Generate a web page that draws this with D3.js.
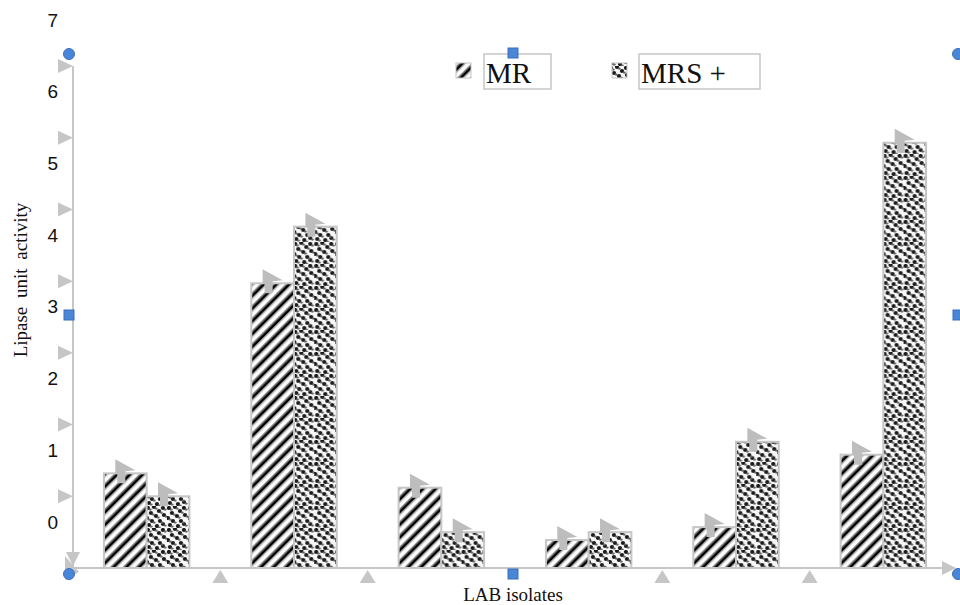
<!DOCTYPE html>
<html>
<head>
<meta charset="utf-8">
<script src="https://cdn.jsdelivr.net/npm/d3@7"></script>
<style>
  body { margin: 0; background: #fff; }
  svg { display: block; }
</style>
</head>
<body>
<svg></svg>
<script>
const isolates = ['1', '2', '3', '4', '5', '6']
const seriesNames = ['MR', 'MRS +']
const mrValues = [1.32, 3.97, 1.12, 0.39, 0.57, 1.58]
const mrsValues = [1.0, 4.76, 0.5, 0.5, 1.76, 5.93]
const yTicks = [0, 1, 2, 3, 4, 5, 6, 7]

const width = 960
const height = 605
const margin = { top: 66, right: 3, bottom: 37, left: 73 }
const gray = '#c6c6c6'

const svg = d3.select('svg')
  .attr('width', width)
  .attr('height', height)
  .attr('viewBox', [0, 0, width, height])

const defs = svg.append('defs')

// 斜线填充
const stripes = defs.append('pattern')
  .attr('id', 'stripes')
  .attr('patternUnits', 'userSpaceOnUse')
  .attr('width', 9)
  .attr('height', 9)
  .attr('patternTransform', 'rotate(45)')
stripes.append('rect').attr('width', 9).attr('height', 9).attr('fill', '#fff')
stripes.append('rect').attr('x', 0).attr('width', 1.4).attr('height', 9).attr('fill', '#999')
stripes.append('rect').attr('x', 1.4).attr('width', 2.6).attr('height', 9).attr('fill', '#000')
stripes.append('rect').attr('x', 4.0).attr('width', 1.4).attr('height', 9).attr('fill', '#999')

// 点状填充
const dotPos = [[2, 2], [8, 1], [13, 5], [5, 7], [10, 10], [1, 12], [6, 15], [14, 15], [3, 19], [11, 20], [17, 2], [18, 9], [17, 18]]
const dots = defs.append('pattern')
  .attr('id', 'dots')
  .attr('patternUnits', 'userSpaceOnUse')
  .attr('width', 21)
  .attr('height', 22)
dots.append('rect').attr('width', 21).attr('height', 22).attr('fill', '#f7f7f7')
dots.selectAll('circle')
  .data(dotPos)
  .join('circle')
  .attr('cx', d => d[0])
  .attr('cy', d => d[1])
  .attr('r', 2.1)
  .attr('fill', '#1a1a1a')
dots.selectAll('ellipse')
  .data(dotPos)
  .join('ellipse')
  .attr('cx', d => (d[0] + 2.2) % 21)
  .attr('cy', d => (d[1] + 1.6) % 22)
  .attr('rx', 1.6)
  .attr('ry', 1.1)
  .attr('fill', '#666')

const fills = ['url(#stripes)', 'url(#dots)']

const x = d3.scaleBand()
  .domain(isolates)
  .range([margin.left, 957])
  .paddingInner(0.42)
  .paddingOuter(0.21)

const xSub = d3.scaleBand()
  .domain(seriesNames)
  .range([0, x.bandwidth()])

const y = d3.scaleLinear()
  .domain([0, 7])
  .range([height - margin.bottom, margin.top])

// 坐标轴线
svg.append('line')
  .attr('x1', margin.left).attr('x2', margin.left)
  .attr('y1', y(7)).attr('y2', y(0))
  .attr('stroke', gray).attr('stroke-width', 2)
svg.append('line')
  .attr('x1', margin.left).attr('x2', 948)
  .attr('y1', y(0)).attr('y2', y(0))
  .attr('stroke', gray).attr('stroke-width', 2)

// 纵轴刻度三角
svg.append('g')
  .selectAll('path')
  .data(yTicks.slice(1))
  .join('path')
  .attr('d', v => `M${margin.left - 15},${y(v) - 7}L${margin.left},${y(v)}L${margin.left - 15},${y(v) + 7}Z`)
  .attr('fill', gray)

// 纵轴标签（向上偏移）
const yAxis = d3.axisLeft(y).tickValues(yTicks).tickFormat(d3.format('d')).tickSize(0).tickPadding(15)
svg.append('g')
  .attr('transform', `translate(${margin.left}, 0)`)
  .call(yAxis)
  .call(g => g.select('.domain').remove())
  .call(g => g.selectAll('text')
    .attr('dy', '-40')
    .attr('font-family', 'Liberation Sans, Arial, sans-serif')
    .attr('font-size', 19)
    .attr('fill', '#111'))

// 横轴刻度三角
const bounds = isolates.slice(1).map(c => x(c) - x.step() * x.paddingInner() / 2)
svg.append('g')
  .selectAll('path')
  .data(bounds.filter((b, i) => i !== 2))
  .join('path')
  .attr('d', b => `M${b - 8},${y(0) + 15}L${b},${y(0) + 2}L${b + 8},${y(0) + 15}Z`)
  .attr('fill', gray)

svg.append('path')
  .attr('d', `M${margin.left - 7},${y(0) - 16}L${margin.left + 7},${y(0) - 16}L${margin.left},${y(0) - 2}Z`)
  .attr('fill', gray)
svg.append('path')
  .attr('d', `M${margin.left - 8},${y(0) - 12}L${margin.left + 6},${y(0) + 4}L${margin.left - 8},${y(0) + 12}Z`)
  .attr('fill', gray)
svg.append('path')
  .attr('d', `M942,${y(0) - 7}L956,${y(0)}L942,${y(0) + 7}Z`)
  .attr('fill', gray)

// 柱子
const rows = isolates.map((c, i) => ({ c, values: [mrValues[i], mrsValues[i]] }))
const groups = svg.append('g')
  .selectAll('g')
  .data(rows)
  .join('g')
  .attr('transform', d => `translate(${x(d.c)}, 0)`)

groups.selectAll('rect')
  .data(d => d.values.map((v, k) => ({ v, k })))
  .join('rect')
  .attr('x', d => xSub(seriesNames[d.k]))
  .attr('y', d => y(d.v))
  .attr('width', xSub.bandwidth())
  .attr('height', d => y(0) - y(d.v))
  .attr('fill', d => fills[d.k])
  .attr('stroke', gray)
  .attr('stroke-width', 2)

// 误差线标记（灰色箭头）
groups.selectAll('path.cap')
  .data(d => d.values.map((v, k) => ({ v, k })))
  .join('path')
  .attr('class', 'cap')
  .attr('d', d => {
    const cx = xSub(seriesNames[d.k]) + xSub.bandwidth() / 2 - 4
    const t = y(d.v)
    return `M${cx - 6},${t - 14}L${cx + 14},${t - 3}L${cx + 4},${t - 2}L${cx + 4},${t + 10}L${cx - 4},${t + 10}L${cx - 4},${t}L${cx - 6},${t}Z`
  })
  .attr('fill', '#bdbdbd')

// 标题
svg.append('text')
  .text('Lipase  unit  activity')
  .attr('transform', 'translate(27, 280) rotate(-90)')
  .attr('text-anchor', 'middle')
  .attr('font-family', 'Liberation Serif, Times New Roman, serif')
  .attr('font-size', 19)
  .attr('word-spacing', 4)
  .attr('fill', '#111')

svg.append('text')
  .text('LAB isolates')
  .attr('x', 513)
  .attr('y', 601)
  .attr('text-anchor', 'middle')
  .attr('font-family', 'Liberation Serif, Times New Roman, serif')
  .attr('font-size', 19)
  .attr('fill', '#111')

// 图例
const legendX = [456, 612]
const legendBox = [[484, 67], [639, 121]]
const legend = svg.append('g')
  .selectAll('g')
  .data(seriesNames)
  .join('g')
legend.append('rect')
  .attr('x', (d, i) => legendX[i])
  .attr('y', 63)
  .attr('width', 15)
  .attr('height', 15)
  .attr('fill', (d, i) => fills[i])
  .attr('stroke', gray)
legend.append('rect')
  .attr('x', (d, i) => legendBox[i][0])
  .attr('y', 54)
  .attr('width', (d, i) => legendBox[i][1])
  .attr('height', 35)
  .attr('fill', 'none')
  .attr('stroke', gray)
  .attr('stroke-width', 1.5)
legend.append('text')
  .text(d => d)
  .attr('x', (d, i) => legendBox[i][0] + 2)
  .attr('y', 83)
  .attr('font-family', 'Liberation Serif, Times New Roman, serif')
  .attr('font-size', 29)
  .attr('fill', '#111')

// 选中手柄
const handleCircles = [[69, 54], [958, 54], [69, 574], [958, 574]]
const handleSquares = [[513, 53], [69, 315], [958, 315], [513, 574]]
svg.append('g')
  .selectAll('circle')
  .data(handleCircles)
  .join('circle')
  .attr('cx', d => d[0])
  .attr('cy', d => d[1])
  .attr('r', 5.5)
  .attr('fill', '#4a86d8')
  .attr('stroke', '#3a6fb8')
svg.append('g')
  .selectAll('rect')
  .data(handleSquares)
  .join('rect')
  .attr('x', d => d[0] - 5)
  .attr('y', d => d[1] - 5)
  .attr('width', 10)
  .attr('height', 10)
  .attr('fill', '#4a86d8')
  .attr('stroke', '#3a6fb8')
</script>
</body>
</html>
